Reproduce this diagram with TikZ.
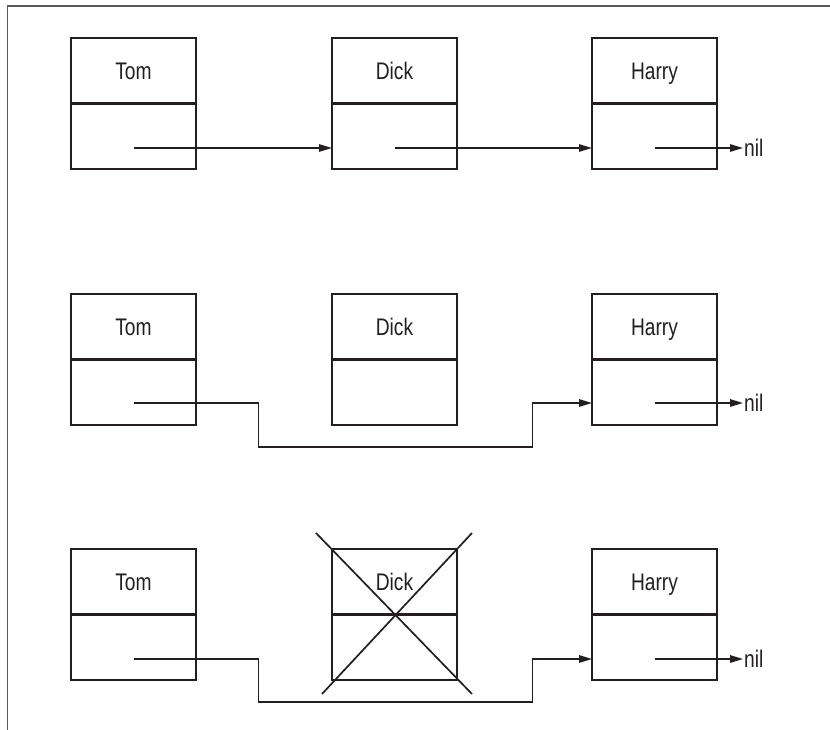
\documentclass[tikz,border=0pt]{standalone}
\usepackage{fontspec}
\setmainfont{Liberation Sans}[FakeStretch=0.8]
\usetikzlibrary{arrows.meta}
\definecolor{ink}{HTML}{231F20}
\definecolor{framec}{HTML}{5A5A5A}
\tikzset{
  cell/.style={draw=ink, line width=2.3pt, minimum width=125pt, minimum height=65.5pt,
    inner sep=0pt, outer sep=0pt, text=ink, font=\fontsize{24}{28}\selectfont,
    text height=17pt, text depth=0pt},
  ptr/.style={draw=ink, line width=1.4pt, -{Triangle[length=13pt,width=7.5pt]}},
  nilt/.style={anchor=west, inner sep=1pt, text=ink, font=\fontsize{24}{28}\selectfont,
    text height=17pt, text depth=0pt},
  xline/.style={draw=ink, line width=1.7pt},
  framel/.style={draw=framec, line width=1.2pt}
}
\begin{document}
\begin{tikzpicture}[x=1pt,y=-1pt]
\useasboundingbox (0,0) rectangle (830,730);
\coordinate (fa) at (7.5,730);
\coordinate (fb) at (7.5,6);
\coordinate (fc) at (830,6);
\draw[framel] (fa) -- (fb) -- (fc);
% row 1
\node[cell] (tom1) at (133.5,70.75) {Tom};
\node[cell] (tom1p) at (133.5,136.25) {};
\node[cell] (dick1) at (394.5,70.75) {Dick};
\node[cell] (dick1p) at (394.5,136.25) {};
\node[cell] (harry1) at (654.5,70.75) {Harry};
\node[cell] (harry1p) at (654.5,136.25) {};
\node[nilt] (nil1) at ([xshift=26pt,yshift=-11.75pt]harry1p.east) {nil};
\draw[ptr] ([yshift=-11.75pt]tom1p.center) -- ([yshift=-11.75pt]dick1p.west);
\draw[ptr] ([yshift=-11.75pt]dick1p.center) -- ([yshift=-11.75pt]harry1p.west);
\draw[ptr] ([yshift=-11.75pt]harry1p.center) -- (nil1.west);
% row 2
\node[cell] (tom2) at (133.5,326.75) {Tom};
\node[cell] (tom2p) at (133.5,392.25) {};
\node[cell] (dick2) at (394.5,326.75) {Dick};
\node[cell] (dick2p) at (394.5,392.25) {};
\node[cell] (harry2) at (654.5,326.75) {Harry};
\node[cell] (harry2p) at (654.5,392.25) {};
\node[nilt] (nil2) at ([xshift=26pt,yshift=-10.75pt]harry2p.east) {nil};
\draw[ptr] ([yshift=-10.75pt]tom2p.center) -- ++(125,0) -- ++(0,44) -- ++(274,0)
  |- ([yshift=-10.75pt]harry2p.west);
\draw[ptr] ([yshift=-10.75pt]harry2p.center) -- (nil2.west);
% row 3
\node[cell] (tom3) at (133.5,581.75) {Tom};
\node[cell] (tom3p) at (133.5,647.25) {};
\node[cell] (dick3) at (394.5,581.75) {Dick};
\node[cell] (dick3p) at (394.5,647.25) {};
\node[cell] (harry3) at (654.5,581.75) {Harry};
\node[cell] (harry3p) at (654.5,647.25) {};
\node[nilt] (nil3) at ([xshift=26pt,yshift=-11.75pt]harry3p.east) {nil};
\draw[ptr] ([yshift=-11.75pt]tom3p.center) -- ++(125,0) -- ++(0,43) -- ++(274,0)
  |- ([yshift=-11.75pt]harry3p.west);
\draw[ptr] ([yshift=-11.75pt]harry3p.center) -- (nil3.west);
\draw[xline] ([shift={(-16,-16)}]dick3.north west) -- ([shift={(15,14)}]dick3p.south east);
\draw[xline] ([shift={(-10,14)}]dick3p.south west) -- ([shift={(15,-16)}]dick3.north east);
\end{tikzpicture}
\end{document}
